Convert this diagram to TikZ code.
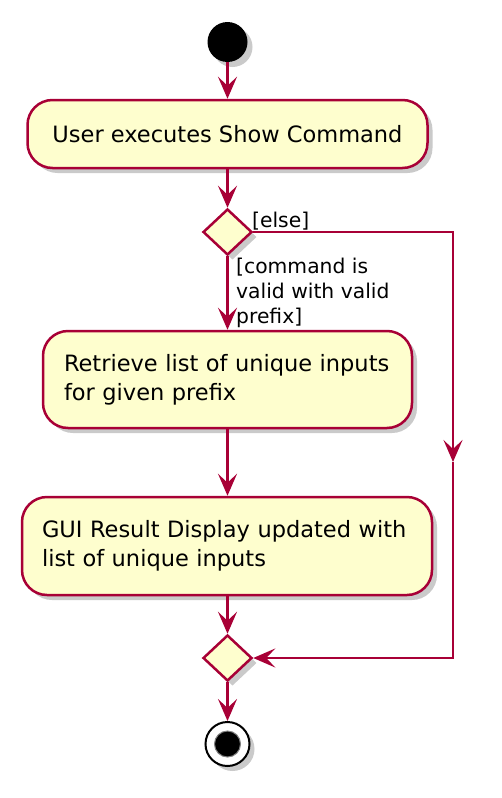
\documentclass[tikz,border=0pt]{standalone}
\usepackage{fontspec}
\setmainfont{DejaVu Sans}
\usetikzlibrary{arrows.meta,shapes.geometric,shadows}
\definecolor{umlred}{HTML}{A80036}
\definecolor{umlfill}{HTML}{FEFECE}
\begin{document}
\begin{tikzpicture}[x=1pt,y=-1pt,
  shd/.style={drop shadow={shadow xshift=5pt,shadow yshift=-5pt,opacity=0.35,fill=black!60}},
  actbox/.style={draw=umlred,fill=umlfill,line width=2.5pt,rounded corners=25pt,shd,
    font=\fontsize{22.5}{29}\selectfont,inner sep=0pt},
  decis/.style={diamond,draw=umlred,fill=umlfill,line width=2.5pt,minimum width=49pt,minimum height=46pt,inner sep=0pt,shd},
  arr/.style={draw=umlred,line width=2.5pt,-{Stealth[length=22pt,width=19pt,inset=9pt]}},
  lbl/.style={font=\fontsize{20.3}{25}\selectfont,inner sep=0pt,align=left}]
\useasboundingbox (0,0) rectangle (502,798);
\node[circle,fill=black,minimum size=40pt,inner sep=0pt,shd] (start) at (227.5,42) {};
\node[actbox,minimum width=400pt,minimum height=68pt] (b1) at (227.5,134) {User executes Show Command};
\node[decis] (d1) at (227.5,232) {};
\node[actbox,minimum width=369pt,minimum height=97pt,text width=327pt,align=left] (b2) at (227.5,379.5) {Retrieve list of unique inputs\\for given prefix};
\node[actbox,minimum width=410pt,minimum height=98pt,text width=370pt,align=left] (b3) at (227,546) {GUI Result Display updated with\\list of unique inputs};
\node[decis] (d2) at (227.5,658) {};
\node[circle,draw=black,fill=white,line width=2pt,minimum size=44pt,inner sep=0pt,shd] (end) at (227.5,744) {};
\node[circle,fill=black,draw=black!50,line width=1pt,minimum size=26pt,inner sep=0pt] (endin) at (227.5,744) {};
\coordinate (c1) at (453,232);
\coordinate (cm) at (453,462);
\coordinate (c2) at (453,658);
\draw[arr] (start) -- (b1);
\draw[arr] (b1) -- (d1);
\draw[arr] (d1) -- (b2);
\draw[arr] (b2) -- (b3.north -| b2);
\draw[arr] (b3.south -| d2) -- (d2);
\draw[arr] (d2) -- (end);
\draw[arr] (d1.east) -- (c1) -- (cm);
\draw[arr] (cm) -- (c2) -- (d2.east);
\node[lbl,anchor=south west] (else) at (252,230) {[else]};
\node[lbl,anchor=north west] (cond) at (236,258) {[command is\\valid with valid\\prefix]};
\end{tikzpicture}
\end{document}
